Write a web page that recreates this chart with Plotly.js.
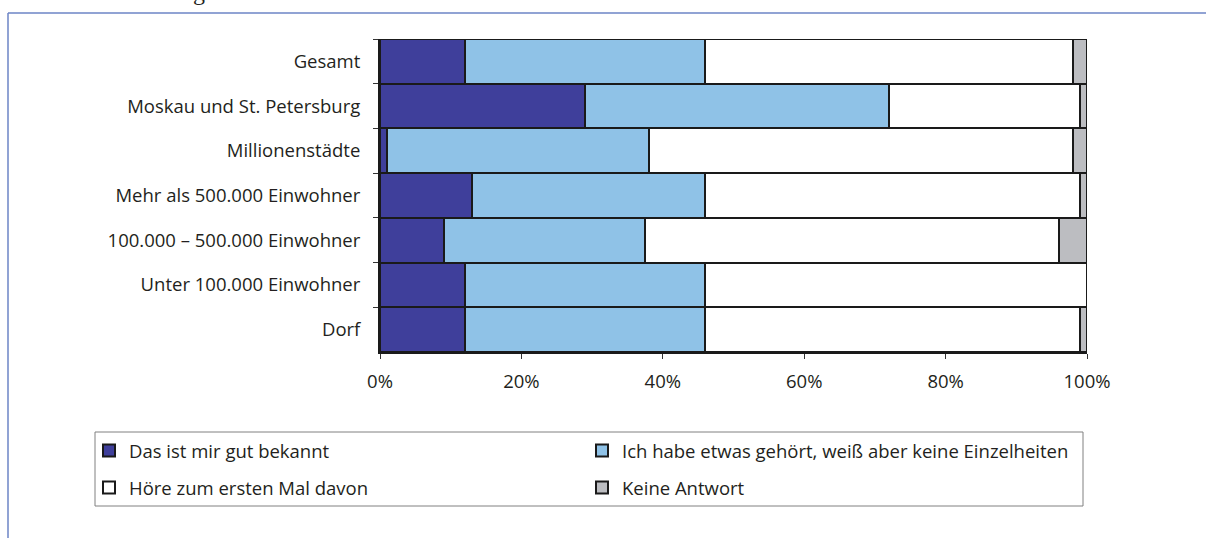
<!DOCTYPE html>
<html>
<head>
<meta charset="utf-8">
<script src="https://cdn.plot.ly/plotly-3.0.1.min.js"></script>
<style>
  html, body { margin: 0; padding: 0; background: #ffffff; }
  #chart { width: 1206px; height: 538px; }
</style>
</head>
<body>
<div id="chart"></div>
<script>
// ---- Data ----
const categories = [
  "Gesamt",
  "Moskau und St. Petersburg",
  "Millionenstädte",
  "Mehr als 500.000 Einwohner",
  "100.000 – 500.000 Einwohner",
  "Unter 100.000 Einwohner",
  "Dorf"
];
const seriesNames = [
  "Das ist mir gut bekannt",
  "Ich habe etwas gehört, weiß aber keine Einzelheiten",
  "Höre zum ersten Mal davon",
  "Keine Antwort"
];
const gutBekannt   = [12, 29, 1, 13, 9, 12, 12];
const etwasGehoert = [34, 43, 37, 33, 28.5, 34, 34];
const ersteMal     = [52, 27, 60, 53, 58.5, 54, 53];
const keineAntwort = [2, 1, 2, 1, 4, 0, 1];
const xTickVals = [0, 20, 40, 60, 80, 100];
const xTickText = ["0%", "20%", "40%", "60%", "80%", "100%"];

// ---- Styling ----
const colors = ["#3f3f9b", "#8fc2e7", "#ffffff", "#bcbdc1"];
const textColor = "#231f20";
const fontFamily = "'Open Sans', 'Liberation Sans', sans-serif";
const fontSize = 18.5;
const valuesList = [gutBekannt, etwasGehoert, ersteMal, keineAntwort];
const legendIds = ["legend", "legend", "legend2", "legend2"];

const traces = seriesNames.map((name, i) => ({
  type: "bar",
  orientation: "h",
  name: name,
  y: categories,
  x: valuesList[i],
  legend: legendIds[i],
  marker: { color: colors[i], line: { color: "#1a1a1a", width: 2 } },
  hoverinfo: "name+x"
}));

const plotLeft = 380, plotRight = 1087, plotTop = 39, plotBottom = 352;
const W = 1206, H = 538;
const pw = plotRight - plotLeft, ph = plotBottom - plotTop;
const px = (x) => (x - plotLeft) / pw;
const py = (y) => (plotBottom - y) / ph;

const legendCommon = {
  orientation: "h",
  xanchor: "left", yanchor: "middle",
  entrywidth: 448, entrywidthmode: "pixels",
  bgcolor: "rgba(0,0,0,0)", borderwidth: 0,
  font: { size: fontSize, color: textColor },
  traceorder: "normal"
};

const layout = {
  width: W, height: H,
  margin: { l: plotLeft, r: W - plotRight, t: plotTop, b: H - plotBottom, pad: 0 },
  paper_bgcolor: "#ffffff",
  plot_bgcolor: "#ffffff",
  barmode: "stack",
  bargap: 0,
  font: { family: fontFamily, size: fontSize, color: textColor },
  xaxis: {
    range: [0, 100],
    tickvals: xTickVals,
    ticktext: xTickText,
    ticks: "outside",
    ticklen: 5,
    tickwidth: 1,
    tickcolor: "#333",
    showgrid: false,
    zeroline: false,
    showline: true,
    linecolor: "#1a1a1a",
    linewidth: 2,
    ticklabelstandoff: 7,
    tickfont: { size: fontSize, color: textColor },
    fixedrange: true
  },
  yaxis: {
    type: "category",
    categoryorder: "array",
    categoryarray: categories,
    autorange: "reversed",
    tickson: "boundaries",
    ticks: "outside",
    ticklen: 5,
    tickwidth: 1,
    tickcolor: "#333",
    showgrid: false,
    zeroline: false,
    showline: true,
    linecolor: "#1a1a1a",
    linewidth: 2,
    ticklabelstandoff: 14,
    tickfont: { size: fontSize, color: textColor },
    fixedrange: true
  },
  legend: Object.assign({}, legendCommon, { x: px(89), y: py(451) }),
  legend2: Object.assign({}, legendCommon, { x: px(89), y: py(488) }),
  shapes: [
    // legend frame
    { type: "rect", xref: "paper", yref: "paper",
      x0: px(95), x1: px(1083), y0: py(432), y1: py(506),
      line: { color: "#808080", width: 1 }, fillcolor: "rgba(0,0,0,0)", layer: "below" },
    // outer figure frame (top and left)
    { type: "line", xref: "paper", yref: "paper",
      x0: px(8), x1: px(1206), y0: py(13), y1: py(13),
      line: { color: "#6d84c6", width: 1.5 } },
    { type: "line", xref: "paper", yref: "paper",
      x0: px(8), x1: px(8), y0: py(13), y1: py(538),
      line: { color: "#6d84c6", width: 1.5 } }
  ],
  annotations: [
    { text: "g", xref: "paper", yref: "paper", x: px(199), y: py(7),
      xanchor: "center", yanchor: "bottom", showarrow: false,
      font: { family: "'Liberation Serif', serif", size: 24, color: "#231f20" } }
  ],
  showlegend: true
};

Plotly.newPlot("chart", traces, layout, { displayModeBar: false, staticPlot: true });
</script>
</body>
</html>
